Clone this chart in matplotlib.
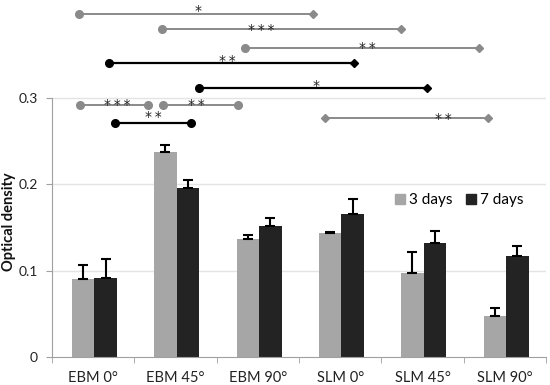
import numpy as np
import matplotlib
matplotlib.use("Agg")
import matplotlib.pyplot as plt
from matplotlib.lines import Line2D

plt.rcParams['font.family'] = ['Lato', 'DejaVu Sans']

# Optical density after 3 and 7 days
groups = ['EBM 0°', 'EBM 45°', 'EBM 90°', 'SLM 0°', 'SLM 45°', 'SLM 90°']
day3 = [0.090, 0.237, 0.136, 0.144, 0.097, 0.048]
day3_err = [0.016, 0.008, 0.005, 0.001, 0.024, 0.009]
day7 = [0.091, 0.196, 0.151, 0.166, 0.132, 0.117]
day7_err = [0.022, 0.009, 0.010, 0.017, 0.014, 0.011]

# significance brackets: (x start, x end, y, stars, star x, star y, colour, start marker, end marker)
brackets = [
    (-0.17, 2.67, 0.397, '*', 1.27, 0.404, 'gray', 'o', 'D'),
    (0.83, 3.74, 0.3795, '***', 2.04, 0.383, 'gray', 'o', 'D'),
    (1.84, 4.69, 0.358, '**', 3.33, 0.362, 'gray', 'o', 'D'),
    (0.19, 3.17, 0.3405, '**', 1.63, 0.347, 'black', 'o', 'D'),
    (1.28, 4.06, 0.311, '*', 2.71, 0.318, 'black', 'o', 'D'),
    (-0.16, 0.67, 0.2916, '***', 0.29, 0.2954, 'gray', 'o', 'o'),
    (0.845, 1.755, 0.2916, '**', 1.25, 0.2954, 'gray', 'o', 'o'),
    (0.26, 1.19, 0.2711, '**', 0.73, 0.2823, 'black', 'o', 'o'),
    (2.82, 4.80, 0.2769, '**', 4.25, 0.280, 'gray', 'D', 'D'),
]

c3 = '#a6a6a6'
c7 = '#232323'
cgray = '#8a8a8a'

fig = plt.figure(figsize=(5.5, 3.85), dpi=100)
ax = fig.add_axes([52 / 550, 28 / 385, 494 / 550, 357 / 385])

x = np.arange(len(groups)) + 0.015
w = 0.273
ax.bar(x - w / 2, day3, w, color=c3, zorder=2, label='3 days')
ax.bar(x + w / 2, day7, w, color=c7, zorder=2, label='7 days')
ax.errorbar(x - w / 2, day3, yerr=[np.zeros(6), day3_err], fmt='none',
            ecolor='black', elinewidth=1.5, capsize=3.5, capthick=1.5, zorder=3)
ax.errorbar(x + w / 2, day7, yerr=[np.zeros(6), day7_err], fmt='none',
            ecolor='black', elinewidth=1.5, capsize=3.5, capthick=1.5, zorder=3)

# asterisk glyph sits high in the em box, so drop the baseline a bit
star_drop = 0.0088
for x0, x1, y, stars, sx, sy, col, m0, m1 in brackets:
    lc = cgray if col == 'gray' else 'black'
    lw = 1.4 if col == 'gray' else 1.6
    ax.plot([x0, x1], [y, y], color=lc, lw=lw, zorder=4, clip_on=False)
    for xx, m in ((x0, m0), (x1, m1)):
        ms = 5.5 if m == 'o' else 3.8
        ax.plot(xx, y, marker=m, ms=ms, color=lc, mec=lc, zorder=5, clip_on=False)
    ax.text(sx, sy - star_drop, '\u2009'.join(stars), ha='center', va='baseline',
            fontsize=10, family='DejaVu Sans', color='#222222', zorder=6)

ax.set_xlim(-0.5, 5.5)
ax.set_ylim(0, 0.413)
ax.set_yticks([0, 0.1, 0.2, 0.3])
ax.set_yticklabels(['0', '0.1', '0.2', '0.3'])
ax.set_xticks(np.arange(6))
ax.set_xticklabels(groups)
ax.set_xticks(np.arange(-0.5, 6.0, 1.0), minor=True)
ax.tick_params(axis='x', which='major', length=0, pad=10, labelsize=10.5, colors='#222222')
ax.tick_params(axis='x', which='minor', length=4, color='#a0a0a0', direction='out')
ax.tick_params(axis='y', length=4, color='#a0a0a0', pad=6, labelsize=10, labelcolor='#222222')

for yy in [0.1, 0.2, 0.3]:
    ax.axhline(yy, color='#e4e4e4', lw=1, zorder=0)

for s in ['top', 'right']:
    ax.spines[s].set_visible(False)
ax.spines['left'].set_bounds(0, 0.3)
ax.spines['left'].set_color('#a0a0a0')
ax.spines['bottom'].set_color('#a0a0a0')

fig.text(9 / 550, 1 - 221.5 / 385, 'Optical density', rotation=90, ha='center',
         va='center', fontsize=10.5, fontweight='bold', color='#111111')

handles = [Line2D([], [], marker='s', ls='none', color=c3, ms=7),
           Line2D([], [], marker='s', ls='none', color=c7, ms=7)]
ax.legend(handles, ['3 days', '7 days'], loc='center', bbox_to_anchor=(0.825, 0.44),
          ncol=2, frameon=False, fontsize=11, handlelength=0.6, handletextpad=0.3,
          columnspacing=0.9)

fig.savefig('out.png', dpi=100)
